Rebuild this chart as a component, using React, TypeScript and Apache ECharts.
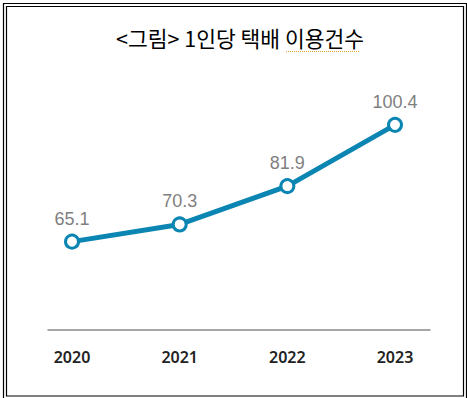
import React, { useEffect, useRef } from "react";
import * as echarts from "echarts";

const titleText = "<그림> 1인당 택배 이용건수";
const years = ["2020", "2021", "2022", "2023"];
const deliveries = [65.1, 70.3, 81.9, 100.4];
const xIndex = [0, 1, 2, 3];

export default function App() {
  const ref = useRef<HTMLDivElement>(null);
  useEffect(() => {
    if (!ref.current) return;
    const chart = echarts.init(ref.current, null, { renderer: "svg" });
    chart.setOption({
      animation: false,
      backgroundColor: "#ffffff",
      title: {
        text: titleText,
        left: 111,
        top: 22,
        textStyle: {
          fontFamily: "Noto Sans CJK KR",
          fontSize: 21.5,
          fontWeight: "normal",
          color: "#000000",
        },
      },
      grid: { left: 48, right: 37, top: 60, bottom: 68 },
      xAxis: {
        type: "value",
        min: -0.223,
        max: 3.325,
        splitLine: { show: false },
        axisTick: { show: false },
        axisLine: { show: true, onZero: false, lineStyle: { color: "#8a8a8a", width: 1.5 } },
        axisLabel: {
          customValues: xIndex,
          formatter: (v: number) => years[Math.round(v)] ?? "",
          margin: 19,
          fontFamily: "Noto Sans",
          fontWeight: 600,
          fontSize: 16,
          color: "#222222",
        },
      },
      yAxis: {
        type: "value",
        min: 38.4,
        max: 120,
        show: false,
        splitLine: { show: false },
      },
      series: [
        {
          type: "line",
          data: deliveries.map((v, i) => [xIndex[i], v]),
          lineStyle: { color: "#0b86b3", width: 5 },
          itemStyle: { color: "#ffffff", borderColor: "#0b86b3", borderWidth: 3 },
          symbol: "circle",
          symbolSize: 13,
          label: {
            show: true,
            position: "top",
            distance: 6,
            fontFamily: "Liberation Sans",
            fontSize: 18,
            color: "#7f7f7f",
            formatter: (p: any) => String(p.value[1]),
          },
        },
      ],
      graphic: [
        {
          type: "rect",
          shape: { x: 3.5, y: 3.5, width: 463, height: 400 },
          style: { fill: "none", stroke: "#000", lineWidth: 1.2 },
          silent: true,
        },
        {
          type: "rect",
          shape: { x: 6.5, y: 6.5, width: 457, height: 389.5 },
          style: { fill: "none", stroke: "#000", lineWidth: 1.2 },
          silent: true,
        },
        {
          type: "line",
          shape: { x1: 286, y1: 51.5, x2: 360, y2: 51.5 },
          style: { stroke: "#d9a030", lineWidth: 1, lineDash: [1, 1] },
          silent: true,
        },
      ],
    });
    return () => chart.dispose();
  }, []);
  return <div ref={ref} style={{ width: 467, height: 398, position: "absolute", left: 0, top: 0 }} />;
}
